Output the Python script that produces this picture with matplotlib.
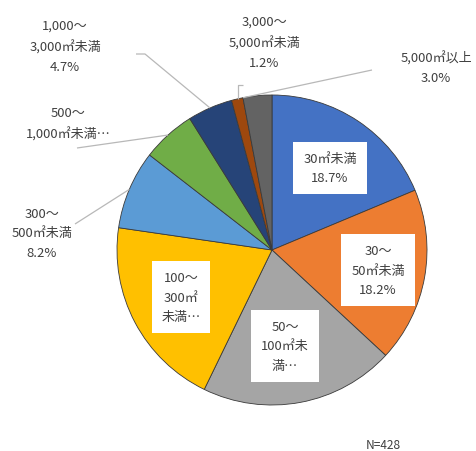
import numpy as np
import matplotlib
matplotlib.use("Agg")
import matplotlib.pyplot as plt

plt.rcParams['font.family'] = ['Noto Sans CJK JP', 'DejaVu Sans']

categories = ["30㎡未満", "30～50㎡未満", "50～100㎡未満", "100～300㎡未満", "300～500㎡未満",
              "500～1,000㎡未満", "1,000～3,000㎡未満", "3,000～5,000㎡未満", "5,000㎡以上"]
values = [18.7, 18.2, 20.3, 20.1, 8.2, 5.6, 4.7, 1.2, 3.0]
label_texts = ["30㎡未満\n18.7%", "30～\n50㎡未満\n18.2%", "50～\n100㎡未\n満…", "100～\n300㎡\n未満…",
               "300～\n500㎡未満\n8.2%", "500～\n1,000㎡未満…", "1,000～\n3,000㎡未満\n4.7%",
               "3,000～\n5,000㎡未満\n1.2%", "5,000㎡以上\n3.0%"]
colors = ["#4472C4", "#ED7D31", "#A5A5A5", "#FFC000", "#5B9BD5",
          "#70AD47", "#264478", "#9E480E", "#636363"]
note = "N=428"

W, H = 477, 452
fig = plt.figure(figsize=(W / 100, H / 100), dpi=100)
ax = fig.add_axes([0, 0, 1, 1])

cx, cy, R = 272, H - 251, 155
wedges, _ = ax.pie(values, colors=colors, startangle=90, counterclock=False,
                   center=(cx, cy), radius=R,
                   wedgeprops=dict(edgecolor='#3a3a3a', linewidth=0.6))
ax.set_xlim(0, W)
ax.set_ylim(0, H)
ax.set_aspect('equal')
ax.axis('off')

def Y(y):
    return H - y

tc = '#404040'
fs = 9.4
ls = 1.65

# inside labels with white boxes
inside = {0: (330, 169), 1: (378, 271), 2: (285, 347), 3: (181, 298)}
for i, (x, y) in inside.items():
    ax.text(x, Y(y), label_texts[i], ha='center', va='center', fontsize=fs,
            color=tc, linespacing=ls,
            bbox=dict(boxstyle='square,pad=0.75', fc='white', ec='none'))

# outside labels
outside = {4: (42, 234), 5: (68, 124), 6: (65, 47), 7: (264, 43), 8: (436, 68)}
for i, (x, y) in outside.items():
    ax.text(x, Y(y), label_texts[i], ha='center', va='center', fontsize=fs,
            color=tc, linespacing=ls)

# leader lines: from label side to the wedge on the rim
def rim_point(w, frac=0.5):
    th = np.deg2rad(w.theta2 + (w.theta1 - w.theta2) * frac)
    return cx + R * np.cos(th), cy + R * np.sin(th)

lc = '#b8b8b8'
leader_start = {4: [(75, 225)], 5: [(77, 149)], 6: [(136, 55), (145, 55)],
                7: [(243, 86), (238, 86)], 8: [(372, 71)]}
for i, pts in leader_start.items():
    px, py = rim_point(wedges[i], 0.0 if i == 8 else 0.5)
    xs = [p[0] for p in pts]
    ys = [Y(p[1]) for p in pts]
    if i == 7:
        xs.append(xs[-1]); ys.append(py)
    else:
        xs.append(px); ys.append(py)
    ax.plot(xs, ys, color=lc, lw=0.9, solid_capstyle='butt')

ax.text(383, Y(446), note, ha='center', va='center', fontsize=8.6, color=tc)

fig.savefig('out.png', dpi=100)
